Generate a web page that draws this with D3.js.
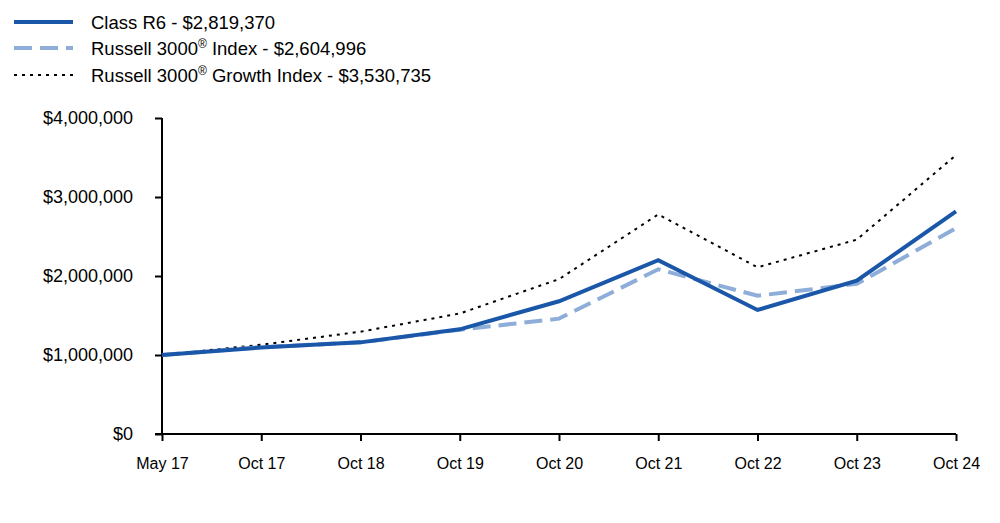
<!DOCTYPE html>
<html><head><meta charset="utf-8">
<script src="https://cdn.jsdelivr.net/npm/d3@7"></script>
<style>body{margin:0;background:#fff;font-family:"Liberation Sans",Arial,sans-serif;}</style>
</head><body><svg id="c" width="1000" height="523"></svg>
<script>
const categories = ["May 17","Oct 17","Oct 18","Oct 19","Oct 20","Oct 21","Oct 22","Oct 23","Oct 24"];
const classR6 = [1000000,1095000,1160000,1325000,1680000,2200000,1570000,1940000,2819370];
const russell3000 = [1000000,1100000,1160000,1320000,1460000,2085000,1750000,1900000,2604996];
const russell3000Growth = [1000000,1130000,1295000,1525000,1960000,2780000,2110000,2460000,3530735];
const yTicks = [0,1000000,2000000,3000000,4000000];
const legendLabels = [
  ["Class R6 - $2,819,370"],
  ["Russell 3000","®"," Index - $2,604,996"],
  ["Russell 3000","®"," Growth Index - $3,530,735"]
];

const svg = d3.select("#c");
const x = d3.scalePoint().domain(categories).range([162,956]);
const y = d3.scaleLinear().domain([0,4000000]).range([434,118]);

const series = [
  {v:classR6, color:"#1b57a8", w:4, dash:null},
  {v:russell3000, color:"#8eadd9", w:4, dash:"18,8"},
  {v:russell3000Growth, color:"#000", w:2, dash:"3,5"}
];

// axes
const yAxis = svg.append("g").attr("transform","translate(162,0)")
  .call(d3.axisLeft(y).tickValues(yTicks).tickSize(7).tickPadding(22)
    .tickFormat(d=>"$"+d3.format(",")(d)));
yAxis.select(".domain").attr("stroke","#000").attr("stroke-width",2).attr("d","M0,118V434");
yAxis.selectAll(".tick line").attr("stroke","#000").attr("stroke-width",2);
yAxis.selectAll("text").attr("font-size",18).attr("fill","#000").attr("font-family","Liberation Sans, Arial, sans-serif");

const xAxis = svg.append("g").attr("transform","translate(0,434)")
  .call(d3.axisBottom(x).tickSize(7).tickPadding(10));
xAxis.select(".domain").attr("stroke","#000").attr("stroke-width",2).attr("d","M155,0H956");
xAxis.selectAll(".tick line").attr("stroke","#000").attr("stroke-width",2);
xAxis.selectAll("text").attr("font-size",16).attr("fill","#000").attr("dy","1.1em")
  .attr("font-family","Liberation Sans, Arial, sans-serif");

// lines (draw growth, russell, then R6 on top)
const line = d3.line().x((d,i)=>x(categories[i])).y(d=>y(d));
[series[2],series[1],series[0]].forEach(s=>{
  svg.append("path").datum(s.v).attr("d",line).attr("fill","none")
    .attr("stroke",s.color).attr("stroke-width",s.w)
    .attr("stroke-dasharray",s.dash).attr("stroke-linejoin","miter");
});

// legend
const ly = [22,48,75];
series.forEach((s,i)=>{
  svg.append("line").attr("x1",14).attr("x2",73).attr("y1",ly[i]).attr("y2",ly[i])
    .attr("stroke",s.color).attr("stroke-width",s.w).attr("stroke-dasharray",s.dash);
  const t = svg.append("text").attr("x",91).attr("y",ly[i]+6.5).attr("font-size",18.5)
    .attr("fill","#000").attr("font-family","Liberation Sans, Arial, sans-serif");
  legendLabels[i].forEach((p,j)=>{
    if(p==="®") t.append("tspan").attr("font-size",12).attr("dy",-7).text(p);
    else if(j===2) t.append("tspan").attr("dy",7).text(p);
    else t.append("tspan").text(p);
  });
});
</script></body></html>
